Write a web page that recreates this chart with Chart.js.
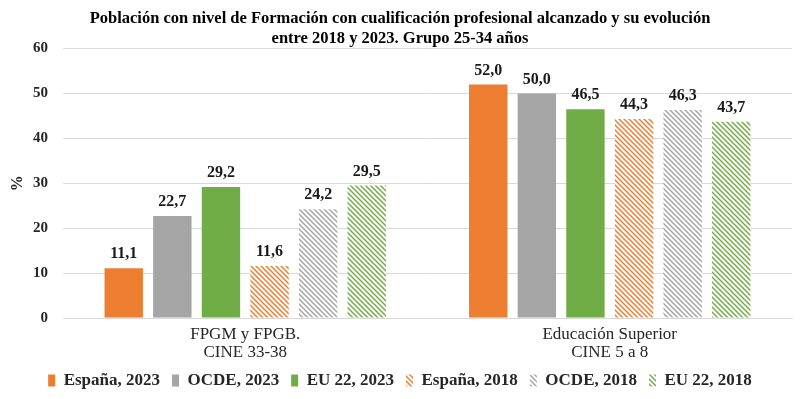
<!DOCTYPE html>
<html lang="es">
<head>
    <meta charset="UTF-8">
    <title>Población con nivel de Formación con cualificación profesional</title>
    <script src="https://cdn.jsdelivr.net/npm/chart.js"></script>
    <style>
        body {
            margin: 0;
            background: #ffffff;
        }
        .chart-box {
            width: 800px;
            height: 399px;
        }
    </style>
</head>
<body>
    <div class="chart-box">
        <canvas id="formacionChart"></canvas>
    </div>

    <script>
        // Datos
        const categories = [["FPGM y FPGB.", "CINE 33-38"], ["Educación Superior", "CINE 5 a 8"]];
        const espana2023 = [11.1, 52.0];
        const ocde2023 = [22.7, 50.0];
        const eu2023 = [29.2, 46.5];
        const espana2018 = [11.6, 44.3];
        const ocde2018 = [24.2, 46.3];
        const eu2018 = [29.5, 43.7];
        const yTicks = [0, 10, 20, 30, 40, 50, 60];

        const ORANGE = '#ED7D31';
        const GRAY = '#A5A5A5';
        const GREEN = '#70AD47';
        const SERIF = '"Liberation Serif", "Times New Roman", serif';

        // Rayado diagonal para las series de 2018
        function hatch(color) {
            const size = 5;
            const c = document.createElement('canvas');
            c.width = size;
            c.height = size;
            const g = c.getContext('2d');
            g.fillStyle = '#ffffff';
            g.fillRect(0, 0, size, size);
            g.strokeStyle = color;
            g.lineWidth = 1.5;
            g.beginPath();
            g.moveTo(-1, -1); g.lineTo(size + 1, size + 1);
            g.moveTo(size - 1, -1); g.lineTo(size + 1, 1);
            g.moveTo(-1, size - 1); g.lineTo(1, size + 1);
            g.stroke();
            return g.createPattern(c, 'repeat');
        }

        // Etiquetas de valor encima de cada barra
        const valueLabels = {
            id: 'valueLabels',
            afterDatasetsDraw(chart) {
                const ctx = chart.ctx;
                ctx.save();
                ctx.font = 'bold 16px ' + SERIF;
                ctx.fillStyle = '#1a1a1a';
                ctx.textAlign = 'center';
                ctx.textBaseline = 'bottom';
                chart.data.datasets.forEach((ds, i) => {
                    chart.getDatasetMeta(i).data.forEach((bar, j) => {
                        ctx.fillText(ds.data[j].toFixed(1).replace('.', ','), bar.x, bar.y - 6);
                    });
                });
                ctx.restore();
            }
        };

        const series = [
            ['España, 2023', espana2023, ORANGE],
            ['OCDE, 2023', ocde2023, GRAY],
            ['EU 22, 2023', eu2023, GREEN],
            ['España, 2018', espana2018, hatch(ORANGE)],
            ['OCDE, 2018', ocde2018, hatch(GRAY)],
            ['EU 22, 2018', eu2018, hatch(GREEN)]
        ];

        const ctx = document.getElementById('formacionChart').getContext('2d');
        new Chart(ctx, {
            type: 'bar',
            data: {
                labels: categories,
                datasets: series.map(s => ({
                    label: s[0],
                    data: s[1],
                    backgroundColor: s[2],
                    borderWidth: 0,
                    barPercentage: 0.79,
                    categoryPercentage: 0.8
                }))
            },
            options: {
                responsive: true,
                maintainAspectRatio: false,
                animation: false,
                layout: {
                    padding: { left: 8, right: 8, top: 0, bottom: 0 }
                },
                scales: {
                    x: {
                        afterFit(axis) {
                            axis.height = 42;
                        },
                        grid: { display: false, drawTicks: false },
                        border: { color: '#d9d9d9' },
                        ticks: {
                            padding: 7,
                            color: '#262626',
                            font: { family: SERIF, size: 17, lineHeight: 1.08 }
                        }
                    },
                    y: {
                        min: 0,
                        max: 60,
                        afterBuildTicks(axis) {
                            axis.ticks = yTicks.map(v => ({ value: v }));
                        },
                        afterFit(axis) {
                            axis.width = 55;
                        },
                        grid: { color: '#d9d9d9', drawTicks: false },
                        border: { display: false },
                        ticks: {
                            padding: 15,
                            color: '#262626',
                            font: { family: SERIF, size: 15, weight: 'bold' }
                        },
                        title: {
                            display: true,
                            text: '%',
                            color: '#262626',
                            padding: 0,
                            font: { family: SERIF, size: 16, weight: 'bold' }
                        }
                    }
                },
                plugins: {
                    title: {
                        display: true,
                        text: ['Población con nivel de Formación con cualificación profesional alcanzado y su evolución',
                               'entre 2018 y 2023. Grupo 25-34 años'],
                        color: '#000000',
                        font: { family: SERIF, size: 16.5, weight: 'bold', lineHeight: 1.2 },
                        padding: { top: 9, bottom: 0 }
                    },
                    legend: {
                        position: 'bottom',
                        labels: {
                            boxWidth: 7,
                            boxHeight: 12,
                            padding: 12,
                            color: '#262626',
                            font: { family: SERIF, size: 17, weight: 'bold' }
                        }
                    },
                    tooltip: { enabled: false }
                }
            },
            plugins: [valueLabels]
        });
    </script>
</body>
</html>
